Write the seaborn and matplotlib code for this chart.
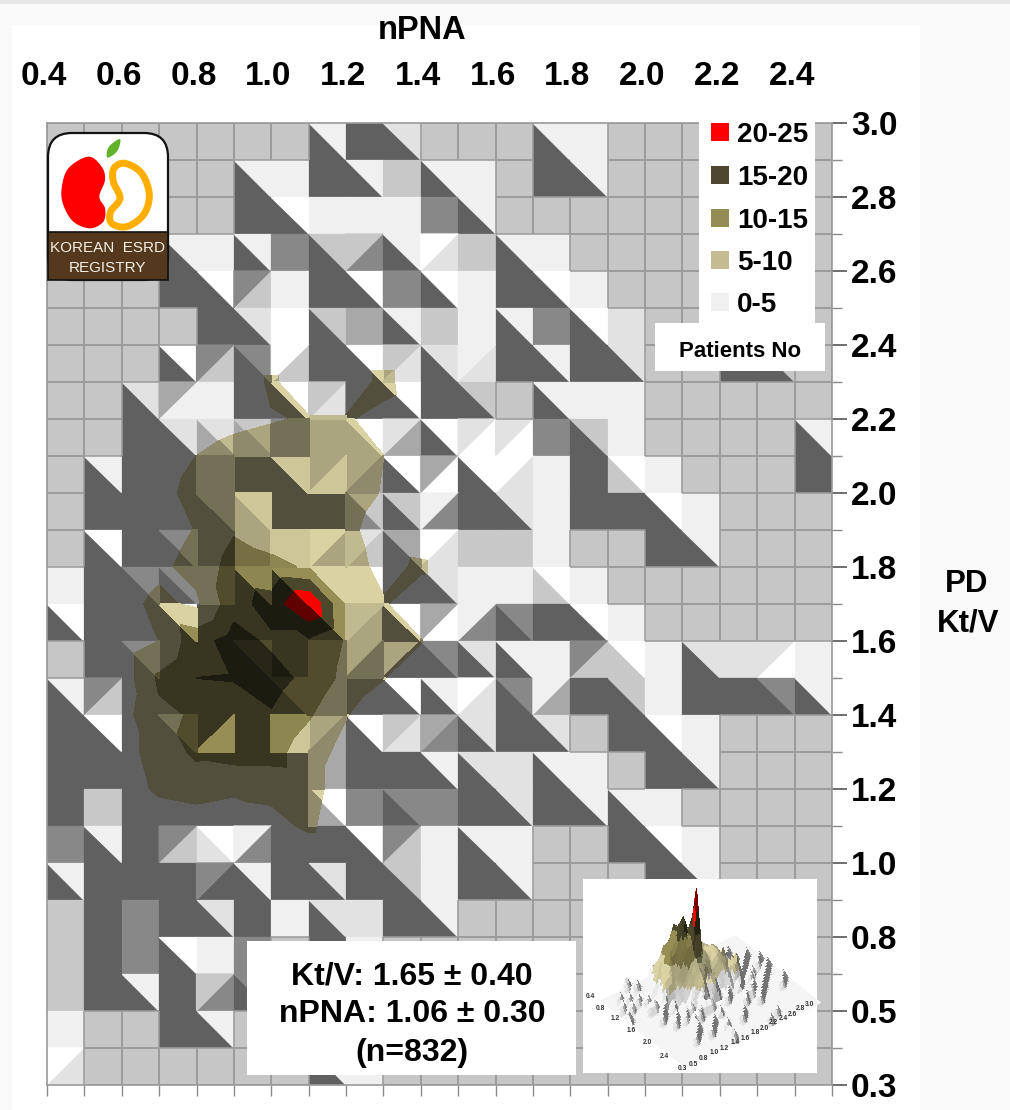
import numpy as np
import matplotlib
matplotlib.use("Agg")
import matplotlib.pyplot as plt
from matplotlib.colors import ListedColormap, to_rgb
from matplotlib.collections import LineCollection
from matplotlib.patches import Rectangle, FancyBboxPatch, Polygon
from matplotlib.tri import Triangulation, LinearTriInterpolator
from matplotlib.transforms import ScaledTranslation
import seaborn as sns

sns.set_theme(style="white")
plt.rcParams["font.family"] = ["Liberation Sans", "DejaVu Sans"]
plt.rcParams["font.weight"] = "bold"

# ---------- data ----------
NPNA_LABELS = ["0.4", "0.6", "0.8", "1.0", "1.2", "1.4", "1.6", "1.8", "2.0", "2.2", "2.4"]
KTV_LABELS = ["3.0", "2.8", "2.6", "2.4", "2.2", "2.0", "1.8", "1.6", "1.4", "1.2", "1.0", "0.8", "0.5", "0.3"]
LEGEND_LABELS = ["20-25", "15-20", "10-15", "5-10", "0-5"]
LEGEND_COLORS = ["#ff0000", "#4f472d", "#958c55", "#c4bb93", "#f0f0f0"]
COUNT_LEVELS = [5, 10, 15, 20, 25.5]
COUNT_TINTS = ["#d9d2a2", "#968e55", "#4a472b", "#ff0000"]
STAT_LINES = ["Kt/V: 1.65 \u00b1 0.40", "nPNA: 1.06 \u00b1 0.30", "(n=832)"]

# Lit surface of each grid cell, one row per Kt/V step, top to bottom.
# One letter: whole cell. Two letters: lower-left then upper-right of a "\" split.
# "/" then two letters: upper-left then lower-right of a "/" split.
CELL_ROWS = [
    "g g g g g g g dl d de g g g dl l g g g g g g",
    "g g g g g dl l d dl c dl l g d dl g g g g g g",
    "g g g g g d dw l l l m dl g g g g g g g g g",
    "g g g dl l dl m dc /cm dl /we c dl l g g g g g g g",
    "g g g d dw /mc l d dw /mm dw l d dw l g g g g g g",
    "g g g g d de w dc s dl c l dl m dw e g g g g g",
    "g g g dw /mc dm /wc d dw /ce de /le d dl d de g g d dg g",
    "g g de /sl l d dw /ce /dd dw d dc g dl l l g g g g g",
    "g g d de se sc /mm c cw /es dw /ew /ew m dc l g g g g dl",
    "g dl d d m d dl /cl /cs dw /sw dw /we l d cw l g g g d",
    "g d d d dm cl d d mc dc /lm d de l d d dw l g g g",
    "g dw d dm d /cc l /wc /ec ds /we c c l g g d dl g g g",
    "l d dm dm m dl dw w w /dd de l l cw l g g g g g g",
    "dw d d dw d d d dw /ec dw /sw /lm dm d dw l g g g g g",
    "g d dm d d dm d m /cm /cd dm de dl l /mc cw l de e /ew l",
    "dl /mc d d d d dm m d dw dl /we dm /ls d dc l d d dm dl",
    "d dw d dm /dw d l /cs dw /ce /sm de d de g d dw l g g g",
    "d d d d d d d s d d dl de e dl l g d dl g g g",
    "d c d d d d d sw m dm m d de d dl dl l g g g g",
    "m dl d /mc ew /lm d d dw /mc l dl l g g d dw l g g g",
    "dl d d d /md dl d de d dc l d dl g g g d dl g g g",
    "c d m d de d l de e d dl g g g g g g g g g g",
    "c d m dw l m g d l g g g g g g g g g g g g",
    "c d dl d /cm dm g g g g g g g g g g g g g g g",
    "l g g d dl g g g g g g g g g g g g g g g g",
    "/we g g g g g g dl l g g g g g g g g g g g g",
]
SHADES = {"g": "#c6c6c6", "c": "#c8c8c8", "d": "#606060", "w": "#ffffff", "l": "#f0f0f0",
          "e": "#e2e2e2", "s": "#a8a8a8", "m": "#888888"}

# Patient counts at the grid nodes, columns nPNA 0.4 to 1.5; the remaining columns are empty.
COUNT_ROWS = {
    7:  [0, 0, 0, 0, 0, 0, 6, 0, 0, 7, 0, 0],
    8:  [0, 0, 0, 0, 2, 3.5, 4.5, 5.5, 5.5, 3, 1, 0],
    9:  [0, 0, 0, 2, 5, 7, 8, 8, 7, 5, 2, 0],
    10: [0, 0, 1, 3, 7, 8, 8, 8, 8, 4.5, 1, 0],
    11: [0, 0, 1, 3, 5.2, 9.5, 8, 8, 6.5, 2, 1, 0],
    12: [0, 0, 2, 4, 6.5, 12, 11, 9.5, 8, 3, 6, 0],
    13: [0, 0, 3.5, 6, 4, 13, 17, 25, 9, 5.5, 1, 0],
    14: [0, 0, 2, 5, 13, 17, 14, 14, 9.5, 7, 5.2, 0],
    15: [0, 0, 2, 10.8, 15, 15.2, 17, 13.5, 8.5, 5.2, 1, 0],
    16: [0, 0, 3, 9, 10.5, 13, 14.5, 10.5, 5.2, 1, 0, 0],
    17: [0, 0, 3, 7, 11, 12, 12, 7, 3.5, 0, 0, 0],
    18: [0, 0, 2, 6, 7, 6, 6.5, 7, 2, 0, 0, 0],
    19: [0, 0, 0, 1, 2, 1, 3, 6, 1, 0, 0, 0],
}
# ------------------------------------------------

NR, NC = len(CELL_ROWS), 21
Z = np.zeros((NR + 1, NC + 1))
for r, vals in COUNT_ROWS.items():
    Z[r, :len(vals)] = vals


def node(r, c):
    return r * (NC + 1) + c


triangles, tri_shades = [], []
flat = np.full((NR, NC), np.nan)
for r, row in enumerate(CELL_ROWS):
    for c, tok in enumerate(row.split()):
        tl, tr, bl, br = node(r, c), node(r, c + 1), node(r + 1, c), node(r + 1, c + 1)
        if tok.startswith("/"):
            triangles += [[tl, tr, bl], [tr, br, bl]]
            tri_shades += [tok[1], tok[2]]
        else:
            a, b = tok[0], tok[-1]
            triangles += [[tl, bl, br], [tl, tr, br]]
            tri_shades += [a, b]
        if tok == "g":
            flat[r, c] = 1.0

cc, rr = np.meshgrid(np.arange(NC + 1), np.arange(NR + 1))
triangles = np.array(triangles)
tri_shades = np.array(tri_shades)
tri = Triangulation(cc.ravel(), rr.ravel(), triangles)

W, H = 1010, 1110
fig = plt.figure(figsize=(W / 100, H / 100), dpi=100, facecolor="#f9f9f9")

bg = fig.add_axes([0, 0, 1, 1], zorder=-1)
bg.set_xlim(0, W); bg.set_ylim(H, 0); bg.axis("off")
bg.add_patch(Rectangle((0, 0), W, 4, color="#e6e6e6", lw=0))
bg.add_patch(Rectangle((12, 25), 908, 1085, color="white", lw=0))

ax = fig.add_axes([47 / W, 1 - 1085 / H, 785 / W, 962 / H], zorder=1)
keys = list(SHADES)
shade_idx = np.array([keys.index(s) for s in tri_shades])
ax.tripcolor(tri, facecolors=shade_idx, cmap=ListedColormap([SHADES[k] for k in keys]),
             vmin=-0.5, vmax=len(keys) - 0.5, edgecolors="face", linewidth=0.9)
sns.heatmap(flat, ax=ax, cmap=ListedColormap([SHADES["g"]]), cbar=False,
            xticklabels=False, yticklabels=False)

# outline only the flat, empty cells
segs = []
for r in range(NR):
    for c in range(NC):
        if flat[r, c] == 1:
            segs += [[(c, r), (c + 1, r)], [(c + 1, r), (c + 1, r + 1)],
                     [(c + 1, r + 1), (c, r + 1)], [(c, r + 1), (c, r)]]
ax.add_collection(LineCollection(segs, colors="#9a9a9a", linewidths=1.1, zorder=2))

# Counts multiply the lit surface: one filled contour per surface shade.
for k in keys:
    keep = tri_shades == k
    if not keep.any():
        continue
    part = Triangulation(tri.x, tri.y, triangles, mask=~keep)
    base = np.array(to_rgb(SHADES[k]))
    cols = [tuple(base * np.array(to_rgb(t))) for t in COUNT_TINTS]
    cs = ax.tricontourf(part, Z.ravel(), levels=COUNT_LEVELS, colors=cols, zorder=3)
    cs.set_edgecolor("face")
    cs.set_linewidth(0.7)

ax.set_xlim(0, NC); ax.set_ylim(NR, 0)
ax.xaxis.set_ticks_position("bottom")
ax.set_xticks(np.arange(NC + 1))
ax.set_xticklabels([NPNA_LABELS[i // 2] if i % 2 == 0 and i // 2 < len(NPNA_LABELS) else "" for i in range(NC + 1)])
ax.tick_params(axis="x", bottom=True, top=False, labelbottom=False, labeltop=True, length=8,
               width=1, color="#8a8a8a", labelsize=24, pad=14)
ax.yaxis.set_ticks_position("right")
ax.set_yticks(np.arange(0, NR + 1, 2))
ax.set_yticklabels(KTV_LABELS)
ax.set_yticks(np.arange(1, NR + 1, 2), minor=True)
ax.tick_params(axis="y", which="major", left=False, right=True, labelleft=False, labelright=True,
               length=11, width=1.2, color="#555555", labelsize=24, pad=2.5)
ax.tick_params(axis="y", which="minor", left=False, right=True, length=7, width=1, color="#8a8a8a")
shift_x = ScaledTranslation(-3 / 100, 0, fig.dpi_scale_trans)
for lab in ax.get_xticklabels():
    lab.set_fontweight("bold"); lab.set_color("black")
    lab.set_transform(lab.get_transform() + shift_x)
for lab in ax.get_yticklabels():
    lab.set_fontweight("bold"); lab.set_color("black"); lab.set_verticalalignment("center_baseline")
for s in ax.spines.values():
    s.set_visible(True); s.set_color("#9a9a9a"); s.set_linewidth(1.2)

ov = fig.add_axes([0, 0, 1, 1], zorder=2)
ov.set_xlim(0, W); ov.set_ylim(H, 0); ov.axis("off"); ov.patch.set_alpha(0)
ov.text(422, 27, "nPNA", ha="center", va="center_baseline", fontsize=23.5, color="black")
ov.text(967, 581, "PD", ha="center", va="center_baseline", fontsize=22.5, color="black")
ov.text(968, 620, "Kt/V", ha="center", va="center_baseline", fontsize=22.5, color="black")

# legend
ov.add_patch(Rectangle((699, 115), 116, 215, color="white", lw=0))
for lab, col, y in zip(LEGEND_LABELS, LEGEND_COLORS, [132, 175, 218, 260, 302]):
    ov.add_patch(Rectangle((711, y - 9), 18, 18, color=col, lw=0))
    ov.text(737, y, lab, ha="left", va="center_baseline", fontsize=20, color="black")
ov.add_patch(Rectangle((655, 323), 170, 48, color="white", lw=0))
ov.text(740, 349, "Patients No", ha="center", va="center_baseline", fontsize=16, color="black")

# statistics box
ov.add_patch(Rectangle((247, 941), 329, 134, color="white", lw=0))
for line, y in zip(STAT_LINES, [973, 1011, 1049]):
    ov.text(412, y, line, ha="center", va="center_baseline", fontsize=23, color="black")


def smooth(points, n=12):
    p = np.array(points, float)
    m = len(p)
    out = []
    for i in range(m):
        p0, p1, p2, p3 = p[i - 1], p[i], p[(i + 1) % m], p[(i + 2) % m]
        for t in np.linspace(0, 1, n, endpoint=False):
            out.append(0.5 * (2 * p1 + (p2 - p0) * t + (2 * p0 - 5 * p1 + 4 * p2 - p3) * t ** 2
                              + (3 * p1 - p0 - 3 * p2 + p3) * t ** 3))
    return np.array(out)


def zoomed(pts):
    return [(40 + x / 3, 125 + y / 3) for x, y in pts]


# registry logo
ov.add_patch(FancyBboxPatch((48, 133), 120, 147, boxstyle="round,pad=0,rounding_size=24",
                            fc="white", ec="#111111", lw=1.6))
ov.add_patch(Rectangle((48, 232), 120, 48, fc="#54391f", ec="#111111", lw=1.2))
ov.add_patch(Polygon(smooth(zoomed([(145, 95), (185, 125), (195, 165), (178, 215), (195, 250), (190, 290),
                                    (150, 310), (100, 290), (70, 240), (65, 190), (85, 130)])),
                     closed=True, fc="#ff0000", ec="none"))
ov.add_patch(Polygon(smooth(zoomed([(255, 115), (305, 145), (328, 210), (310, 270), (260, 305), (215, 295),
                                    (212, 260), (240, 220), (220, 170), (222, 130)])),
                     closed=True, fc="none", ec="#ffae00", lw=5))
ov.add_patch(Polygon(smooth(zoomed([(240, 42), (232, 78), (202, 98), (206, 66)]), 6),
                     closed=True, fc="#62b22c", ec="none"))
ov.text(108, 247, "KOREAN  ESRD", ha="center", va="center_baseline", fontsize=11, color="#f3efe6", fontweight="normal")
ov.text(108, 266, "REGISTRY", ha="center", va="center_baseline", fontsize=11, color="#f3efe6", fontweight="normal")

# small 3-D inset
ov.add_patch(Rectangle((583, 879), 234, 194, color="white", lw=0))
ax3 = fig.add_axes([(706 - 170) / W, 1 - (955 + 170) / H, 340 / W, 340 / H], projection="3d", zorder=3)
ax3.patch.set_alpha(0)
surf = Z.copy()
for r, row in enumerate(CELL_ROWS):
    for c, tok in enumerate(row.split()):
        if len(tok) == 2 and tok[0] == "d":
            surf[r + 1, c] = max(surf[r + 1, c], 2.5)
fine_c, fine_r = np.meshgrid(np.linspace(0, NC, NC * 3 + 1), np.linspace(0, NR, NR * 3 + 1))
fine = np.ma.filled(LinearTriInterpolator(Triangulation(tri.x, tri.y, triangles), surf.ravel())(fine_c, fine_r), 0.0)
face = np.ones(fine.shape + (3,)) * 0.96
for lo, col in zip(COUNT_LEVELS[:-1], COUNT_TINTS):
    face[fine >= lo] = to_rgb(col)
# soft side lighting of the facets, floor stays pale
dzr, dzc = np.gradient(fine, 1 / 3)
light = np.clip(1.0 - 0.16 * np.maximum(dzr, 0) - 0.05 * np.maximum(-dzc, 0), 0.45, 1.0)
face = face * light[..., None]
ax3.plot_surface(fine_c, NR - fine_r, fine, facecolors=face, rstride=1, cstride=1, linewidth=0,
                 shade=False, antialiased=False)
ax3.view_init(elev=38, azim=-38)
ax3.set_box_aspect((21, 26, 18), zoom=0.815)
ax3.set_proj_type("ortho")
ax3.set_axis_off()

# inset axis labels sit above the surface layer
ov3 = fig.add_axes([0, 0, 1, 1], zorder=4)
ov3.set_xlim(0, W); ov3.set_ylim(H, 0); ov3.axis("off"); ov3.patch.set_alpha(0)
INSET_NPNA = [("0.4", 590, 997), ("0.8", 600, 1008), ("1.2", 615, 1019), ("1.6", 631, 1031),
              ("2.0", 647, 1043), ("2.4", 664, 1056)]
INSET_KTV = [("0.3", 682, 1069), ("0.5", 693, 1064), ("0.8", 703, 1058), ("1.0", 714, 1053), ("1.2", 724, 1048),
             ("1.4", 735, 1043), ("1.6", 745, 1038), ("1.8", 755, 1033), ("2.0", 764, 1028), ("2.2", 773, 1023),
             ("2.4", 783, 1019), ("2.6", 792, 1014), ("2.8", 800, 1009), ("3.0", 810, 1004)]
for lab, x, y in INSET_NPNA + INSET_KTV:
    ov3.text(x, y, lab, ha="center", va="center", fontsize=4.8, color="#333333")

fig.savefig("out.png", dpi=100, facecolor=fig.get_facecolor())
